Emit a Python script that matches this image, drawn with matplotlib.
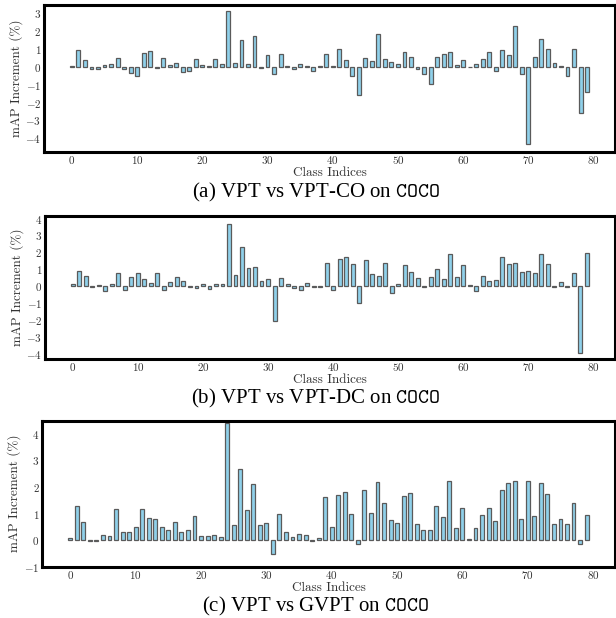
import numpy as np
import matplotlib
matplotlib.use("Agg")
import matplotlib.pyplot as plt
from matplotlib.ticker import MultipleLocator

plt.rcParams['mathtext.fontset'] = 'cm'
plt.rcParams['axes.formatter.use_mathtext'] = True
plt.rcParams['font.family'] = ['cmr10', 'DejaVu Serif']
plt.rcParams['axes.unicode_minus'] = True

# mAP increment per class (%)
vpt_co = [0.02, 0.93, 0.37, -0.10, -0.10, 0.07, 0.15, 0.47, -0.11, -0.35,
          -0.52, 0.76, 0.86, -0.05, 0.47, 0.10, 0.22, -0.28, -0.22, 0.45,
          0.10, 0.02, 0.43, 0.13, 3.13, 0.19, 1.49, 0.17, 1.73, -0.05,
          0.65, -0.41, 0.71, 0.02, -0.15, 0.15, 0.05, -0.26, 0.05, 0.73,
          0.05, 1.00, 0.35, -0.54, -1.60, 0.47, 0.32, 1.85, 0.43, 0.24,
          0.15, 0.82, 0.52, -0.15, -0.43, -0.97, 0.52, 0.73, 0.82, 0.11,
          0.35, -0.02, 0.13, 0.45, 0.84, -0.22, 0.93, 0.63, 2.28, -0.39,
          -4.31, 0.56, 1.53, 1.00, 0.20, 0.05, -0.50, 0.97, -2.60, -1.44]

vpt_dc = [0.10, 0.88, 0.61, -0.03, 0.08, -0.27, 0.12, 0.80, -0.25, 0.51,
          0.77, 0.39, 0.20, 0.77, -0.22, 0.24, 0.51, 0.29, -0.03, -0.14,
          0.10, -0.16, 0.10, 0.10, 3.68, 0.65, 2.34, 1.06, 1.10, 0.31,
          0.43, -2.06, 0.47, 0.12, -0.12, -0.25, 0.16, -0.03, -0.03, 1.34,
          -0.24, 1.59, 1.73, 1.28, -1.02, 1.57, 0.73, 0.59, 1.39, -0.41,
          0.14, 1.22, 0.83, 0.47, -0.03, 0.53, 1.02, 0.39, 1.89, 0.51,
          1.24, 0.05, -0.29, 0.57, 0.29, 0.33, 1.71, 1.30, 1.36, 0.81,
          0.92, 0.79, 1.89, 1.30, -0.03, 0.27, -0.03, 0.77, -3.95, 1.95]

gvpt = [0.08, 1.30, 0.69, -0.02, -0.02, 0.18, 0.16, 1.16, 0.30, 0.29,
        0.50, 1.16, 0.83, 0.80, 0.50, 0.39, 0.69, 0.31, 0.40, 0.92,
        0.15, 0.15, 0.21, 0.13, 4.43, 0.57, 2.68, 1.12, 2.11, 0.57,
        0.63, -0.53, 0.99, 0.31, 0.11, 0.23, 0.19, -0.02, 0.08, 1.61,
        0.49, 1.71, 1.81, 1.00, -0.15, 1.89, 1.03, 2.20, 1.40, 0.75,
        0.64, 1.65, 1.77, 0.59, 0.40, 0.39, 1.28, 0.88, 2.23, 0.44,
        1.21, 0.06, 0.44, 0.94, 1.21, 0.72, 1.89, 2.14, 2.23, 0.79,
        2.23, 0.92, 2.15, 1.75, 0.59, 0.80, 0.60, 1.40, -0.14, 0.96]

captions = [r"(a) VPT vs VPT-CO on $\mathtt{COCO}$",
            r"(b) VPT vs VPT-DC on $\mathtt{COCO}$",
            r"(c) VPT vs GVPT on $\mathtt{COCO}$"]
series = [vpt_co, vpt_dc, gvpt]
ylims = [(-4.75, 3.45), (-4.3, 4.15), (-1.0, 4.5)]
# axes boxes in figure fractions [left, bottom, width, height]
boxes = [[0.0714, 0.7545, 0.927, 0.2374],
         [0.0730, 0.4196, 0.925, 0.2309],
         [0.0687, 0.0830, 0.929, 0.2363]]
cap_y = [0.689, 0.356, 0.018]

fig = plt.figure(figsize=(6.16, 6.18), dpi=100)

for vals, cap, yl, box, cy in zip(series, captions, ylims, boxes, cap_y):
    ax = fig.add_axes(box)
    x = np.arange(len(vals))
    ax.bar(x, vals, width=0.6, color='#8fd0ea', edgecolor='#5a5a5a', linewidth=0.9)
    ax.set_ylim(*yl)
    ax.yaxis.set_major_locator(MultipleLocator(1))
    ax.set_xticks([0, 10, 20, 30, 40, 50, 60, 70, 80])
    ax.tick_params(length=0, pad=2, labelsize=8, colors='#333333')
    for s in ax.spines.values():
        s.set_linewidth(2.2)
        s.set_color('black')
    ax.set_xlabel("Class Indices", fontsize=9.5, labelpad=0, color='#333333')
    ax.set_ylabel("mAP Increment (%)", fontsize=9.5, labelpad=2, color='#333333')
    fig.text(0.513, cy, cap, fontsize=15, ha='center', va='center',
             family='Liberation Serif')

fig.savefig("out.png", dpi=100)
